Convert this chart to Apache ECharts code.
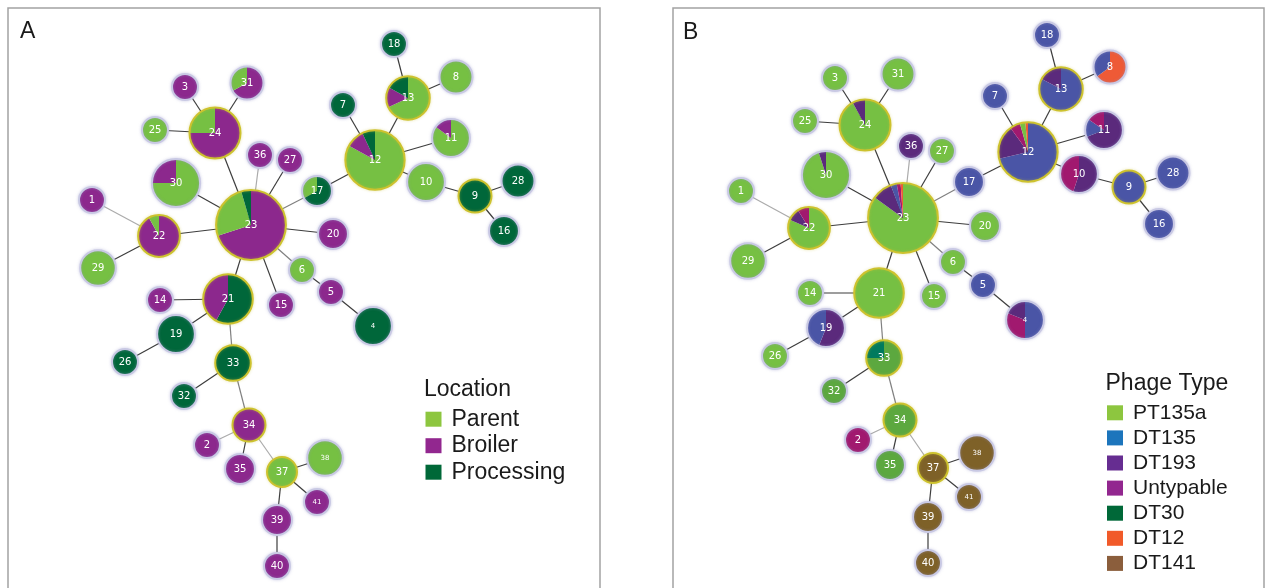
<!DOCTYPE html>
<html>
<head>
<meta charset="utf-8">
<script src="https://cdn.jsdelivr.net/npm/echarts@6/dist/echarts.min.js"></script>
<style>
  html, body { margin: 0; padding: 0; background: #ffffff; }
  #chart { width: 1270px; height: 588px; }
</style>
</head>
<body>
<div id="chart"></div>
<script>
// ---------- data ----------
// Sequence-type clusters (node labels)
const nodeIds = [1,2,3,4,5,6,7,8,9,10,11,12,13,14,15,16,17,18,19,20,21,22,23,24,25,26,27,28,29,30,31,32,33,34,35,36,37,38,39,40,41];

// Isolates in each cluster (drives node size)
const nodeIsolates = [1,1,1,5,1,1,1,3,3,5,5,20,8,1,1,2,2,1,5,2,12,7,31,13,1,1,1,3,4,11,3,1,4,3,2,1,2,4,2,1,1];

// Group founders of the minimum spanning tree
const groupFounders = [9,12,13,21,22,23,24,33,34,37];

// Tree branches: [from, to, allelic distance]
const treeEdges = [
  [3,24,1],[31,24,1],[25,24,1],[24,23,1],[30,23,1],[36,23,3],[27,23,1],[17,23,2],
  [22,23,1],[1,22,3],[29,22,1],[20,23,1],[6,23,2],[5,6,1],[4,5,1],[15,23,1],
  [21,23,1],[14,21,1],[19,21,1],[26,19,1],[33,21,2],[32,33,1],[34,33,2],[2,34,3],
  [35,34,1],[37,34,3],[38,37,1],[41,37,1],[39,37,1],[40,39,1],[12,17,1],[7,12,1],
  [13,12,1],[18,13,1],[8,13,1],[11,12,1],[10,12,1],[9,10,1],[28,9,1],[16,9,1]
];

// Tree layout, panel A (node order as nodeIds)
const layoutAX = [84,199,177,365,323,294,335,448,467,418,443,367,400,152,273,496,309,386,168,325,220,151,243,207,147,117,282,510,90,168,239,176,225,241,232,252,274,317,269,269,309];
const layoutAY = [192,437,79,318,284,262,97,69,188,174,130,152,90,292,297,223,183,36,326,226,291,228,217,125,122,354,152,173,260,175,75,388,355,417,461,147,464,450,512,558,494];

// Tree layout, panel B
const layoutBX = [68,185,162,352,310,280,322,437,456,406,431,355,388,137,261,486,296,374,153,312,206,136,230,192,132,102,269,500,75,153,225,161,211,227,217,238,260,304,255,255,296];
const layoutBY = [183,432,70,312,277,254,88,59,179,166,122,144,81,285,288,216,174,27,320,218,285,220,210,117,113,348,143,165,253,167,66,383,350,412,457,138,460,445,509,555,489];

// Legend categories
const locationCategories = ['Parent', 'Broiler', 'Processing'];
const phageTypes = ['PT135a', 'DT135', 'DT193', 'Untypable', 'DT30', 'DT12', 'DT141'];

// Composition by sampling location (%), slices clockwise from 12 o'clock
const locationMix = [
  [['Broiler',100]],
  [['Broiler',100]],
  [['Broiler',100]],
  [['Processing',100]],
  [['Broiler',100]],
  [['Parent',100]],
  [['Processing',100]],
  [['Parent',100]],
  [['Processing',100]],
  [['Parent',100]],
  [['Parent',85],['Broiler',15]],
  [['Parent',83],['Broiler',10],['Processing',7]],
  [['Parent',68],['Broiler',15],['Processing',17]],
  [['Broiler',100]],
  [['Broiler',100]],
  [['Processing',100]],
  [['Processing',67],['Parent',33]],
  [['Processing',100]],
  [['Processing',100]],
  [['Broiler',100]],
  [['Processing',58],['Broiler',42]],
  [['Broiler',92],['Parent',8]],
  [['Broiler',70],['Parent',25.5],['Processing',4.5]],
  [['Broiler',75],['Parent',25]],
  [['Parent',100]],
  [['Processing',100]],
  [['Broiler',100]],
  [['Processing',100]],
  [['Parent',100]],
  [['Parent',75],['Broiler',25]],
  [['Broiler',67],['Parent',33]],
  [['Processing',100]],
  [['Processing',100]],
  [['Broiler',100]],
  [['Broiler',100]],
  [['Broiler',100]],
  [['Parent',100]],
  [['Parent',100]],
  [['Broiler',100]],
  [['Broiler',100]],
  [['Broiler',100]]
];

// Composition by phage type (%), slices clockwise from 12 o'clock
const phageMix = [
  [['PT135a',100]],
  [['Untypable',100]],
  [['PT135a',100]],
  [['DT135',50],['Untypable',31],['DT193',19]],
  [['DT135',100]],
  [['PT135a',100]],
  [['DT135',100]],
  [['DT12',65],['DT135',35]],
  [['DT135',100]],
  [['DT193',55],['Untypable',45]],
  [['DT193',69],['DT135',15.5],['Untypable',15.5]],
  [['DT135',71.4],['DT193',18.6],['Untypable',5.6],['PT135a',3],['DT12',1.4]],
  [['DT135',82.5],['DT193',17.5]],
  [['PT135a',100]],
  [['PT135a',100]],
  [['DT135',100]],
  [['DT135',100]],
  [['DT135',100]],
  [['DT193',56],['DT135',44]],
  [['PT135a',100]],
  [['PT135a',100]],
  [['PT135a',81.4],['DT193',9.7],['Untypable',8.9]],
  [['PT135a',85],['DT193',9.3],['DT135',2.8],['Untypable',1.8],['DT12',1.1]],
  [['PT135a',92],['DT193',8]],
  [['PT135a',100]],
  [['PT135a',100]],
  [['PT135a',100]],
  [['DT135',100]],
  [['PT135a',100]],
  [['PT135a',95],['DT193',5]],
  [['PT135a',100]],
  [['PT135a',100]],
  [['PT135a',75],['DT30',25]],
  [['PT135a',100]],
  [['PT135a',100]],
  [['DT193',100]],
  [['DT141',100]],
  [['DT141',100]],
  [['DT141',100]],
  [['DT141',100]],
  [['DT141',100]]
];

// ---------- styling ----------
const locationFill   = { Parent: '#76c043', Broiler: '#8c288d', Processing: '#00673a' };
const locationSwatch = { Parent: '#8dc63f', Broiler: '#92278f', Processing: '#006838' };
const phageFill   = { PT135a: '#76c043', DT135: '#4a55a6', DT193: '#5b2a7c', Untypable: '#a1196f', DT30: '#007a5e', DT12: '#ee5a36', DT141: '#7e6128' };
const phageSwatch = { PT135a: '#8dc63f', DT135: '#1c75bc', DT193: '#662d91', Untypable: '#92278f', DT30: '#006838', DT12: '#f15a29', DT141: '#8b5e3c' };
// the lower PT135a branch is drawn a shade darker
const darkerPT = [32, 33, 34, 35];
const smallLabelIds = [4, 38, 41];
const edgeShade = { 1: '#3d3d3d', 2: '#808080', 3: '#ababab' };

const radiusOf = n => 9.2 + 4.8 * Math.sqrt(n);

function edgeSeries(gi, xs, ys) {
  return {
    type: 'custom',
    coordinateSystem: 'cartesian2d',
    xAxisIndex: gi, yAxisIndex: gi,
    clip: false, z: 1, silent: true,
    encode: { x: [0, 2], y: [1, 3] },
    data: treeEdges.map(([a, b, d]) => [xs[a - 1], ys[a - 1], xs[b - 1], ys[b - 1], d]),
    renderItem(params, api) {
      const p1 = api.coord([api.value(0), api.value(1)]);
      const p2 = api.coord([api.value(2), api.value(3)]);
      return {
        type: 'line',
        shape: { x1: p1[0], y1: p1[1], x2: p2[0], y2: p2[1] },
        style: { stroke: edgeShade[api.value(4)], lineWidth: 1.2 }
      };
    }
  };
}

function nodeSeries(gi, xs, ys, mixes, fillOf) {
  return {
    type: 'custom',
    coordinateSystem: 'cartesian2d',
    xAxisIndex: gi, yAxisIndex: gi,
    clip: false, z: 3, silent: true,
    encode: { x: 0, y: 1 },
    data: nodeIds.map((id, i) => [xs[i], ys[i], i]),
    renderItem(params, api) {
      const i = api.value(2);
      const id = nodeIds[i];
      const c = api.coord([api.value(0), api.value(1)]);
      const r = radiusOf(nodeIsolates[i]) - 1;
      const mix = mixes[i];
      const total = mix.reduce((s, m) => s + m[1], 0);
      const children = [];
      if (mix.length === 1) {
        children.push({ type: 'circle', shape: { cx: c[0], cy: c[1], r: r },
          style: { fill: fillOf(mix[0][0], id) } });
      } else {
        let start = -Math.PI / 2;
        mix.forEach(([cat, v]) => {
          const end = start + v / total * Math.PI * 2;
          children.push({ type: 'sector',
            shape: { cx: c[0], cy: c[1], r0: 0, r: r, startAngle: start, endAngle: end, clockwise: true },
            style: { fill: fillOf(cat, id) } });
          start = end;
        });
      }
      const founder = groupFounders.indexOf(id) >= 0;
      children.push({ type: 'circle', shape: { cx: c[0], cy: c[1], r: r },
        style: { fill: 'none', stroke: founder ? '#cdc22e' : '#c9c9e4', lineWidth: 2,
                 shadowBlur: 3, shadowColor: founder ? 'rgba(200,190,60,0.45)' : 'rgba(150,150,200,0.55)' } });
      children.push({ type: 'text', x: c[0], y: c[1],
        style: { text: String(id), fill: '#ffffff', align: 'center', verticalAlign: 'middle',
                 fontFamily: 'DejaVu Sans', fontSize: smallLabelIds.indexOf(id) >= 0 ? 7 : 10 } });
      return { type: 'group', children: children };
    }
  };
}

const fillLocation = (cat) => locationFill[cat];
const fillPhage = (cat, id) => (cat === 'PT135a' && darkerPT.indexOf(id) >= 0) ? '#5ca83f' : phageFill[cat];

// Legend blocks
function legendBlock(title, cats, swatch, x, titleY, firstY, gap, fontSize) {
  const els = [{ type: 'text', x: x - 1.5, y: titleY,
    style: { text: title, fill: '#1a1a1a', fontFamily: 'Liberation Sans', fontSize: 23, verticalAlign: 'middle' } }];
  cats.forEach((cat, k) => {
    const cy = firstY + k * gap;
    els.push({ type: 'rect', shape: { x: x, y: cy - 7.5, width: 16, height: 15 }, style: { fill: swatch[cat] } });
    els.push({ type: 'text', x: x + 26, y: cy,
      style: { text: cat, fill: '#1a1a1a', fontFamily: 'Liberation Sans', fontSize: fontSize, verticalAlign: 'middle' } });
  });
  return els;
}

const chart = echarts.init(document.getElementById('chart'));
chart.setOption({
  animation: false,
  backgroundColor: '#ffffff',
  grid: [
    { left: 8, top: 8, width: 592, height: 590, show: true, borderColor: '#a2a2a2', borderWidth: 1.5, outerBoundsMode: 'none' },
    { left: 673, top: 8, width: 591, height: 590, show: true, borderColor: '#a2a2a2', borderWidth: 1.5, outerBoundsMode: 'none' }
  ],
  xAxis: [
    { type: 'value', gridIndex: 0, min: 0, max: 592, show: false },
    { type: 'value', gridIndex: 1, min: 0, max: 591, show: false }
  ],
  yAxis: [
    { type: 'value', gridIndex: 0, min: 0, max: 590, inverse: true, show: false },
    { type: 'value', gridIndex: 1, min: 0, max: 590, inverse: true, show: false }
  ],
  series: [
    edgeSeries(0, layoutAX, layoutAY),
    nodeSeries(0, layoutAX, layoutAY, locationMix, fillLocation),
    edgeSeries(1, layoutBX, layoutBY),
    nodeSeries(1, layoutBX, layoutBY, phageMix, fillPhage)
  ],
  graphic: [
    { type: 'text', x: 20, y: 32, style: { text: 'A', fill: '#1a1a1a', fontFamily: 'Liberation Sans', fontSize: 23, verticalAlign: 'middle' } },
    { type: 'text', x: 683, y: 33, style: { text: 'B', fill: '#1a1a1a', fontFamily: 'Liberation Sans', fontSize: 23, verticalAlign: 'middle' } }
  ].concat(
    legendBlock('Location', locationCategories, locationSwatch, 425.5, 390, 419.2, 26.5, 23),
    legendBlock('Phage Type', phageTypes, phageSwatch, 1107, 383.5, 412.8, 25.1, 21)
  )
});
</script>
</body>
</html>
